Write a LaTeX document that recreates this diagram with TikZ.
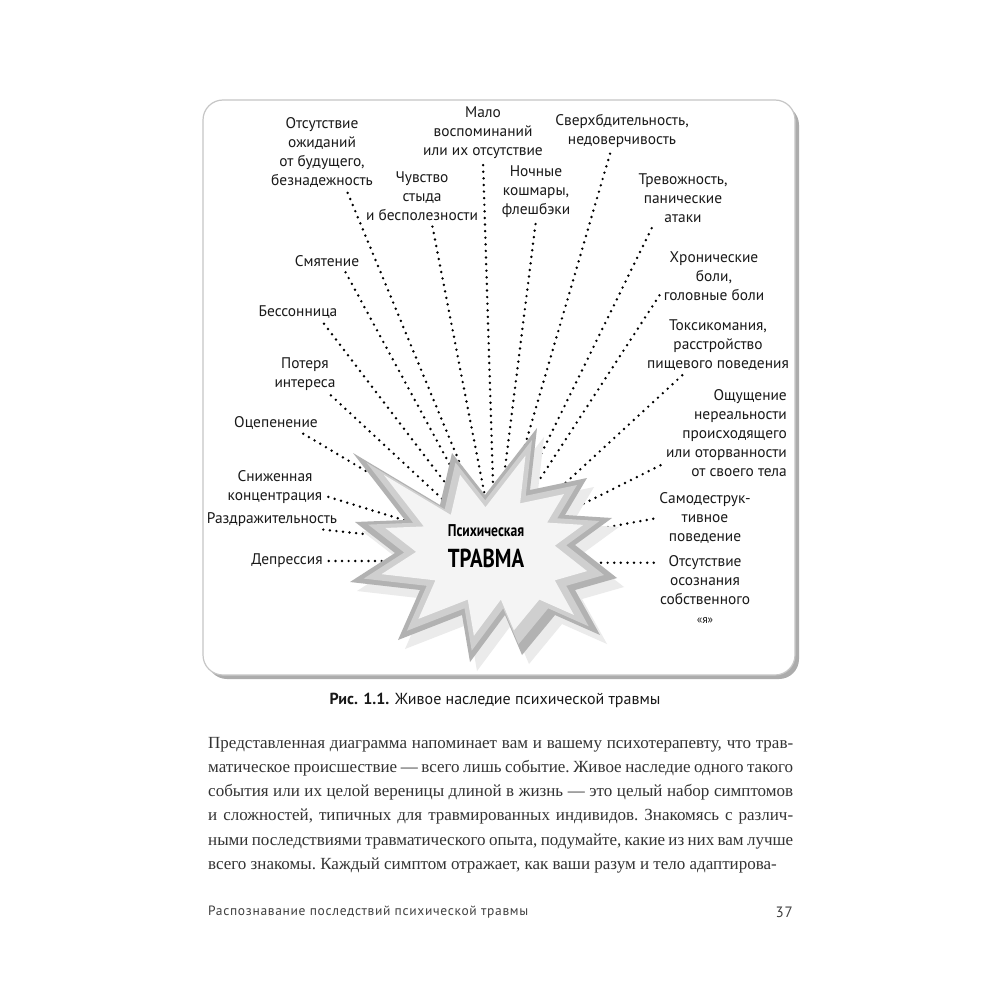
\documentclass[tikz,border=0pt]{standalone}
\usepackage{fontspec}
\setmainfont{PT Sans}
\newfontfamily\bodyserif{Liberation Serif}
\newfontfamily\condsans[FakeStretch=0.8]{PT Sans}
\newfontfamily\footsans[LetterSpace=5]{PT Sans}
\def\blast{(353,453) -- (440,505) -- (452,453) -- (485,495) -- (537,428) -- (530,490) -- (587,478) -- (565,515) -- (612,518) -- (575,545) -- (617,578) -- (575,590) -- (600,635) -- (555,615) -- (522,655) -- (505,615) -- (470,662) -- (462,615) -- (398,640) -- (420,590) -- (350,582) -- (395,553) -- (355,522) -- (405,520) -- cycle}
\begin{document}
\begin{tikzpicture}[x=1pt,y=-1pt,
    lab/.style={font=\fontsize{15.4}{19}\selectfont, align=center, inner sep=2pt, text=black!90},
    dots/.style={line width=2.7pt, line cap=round, dash pattern=on 0pt off 6.6pt, shorten <=4pt}]
    \useasboundingbox (0,0) rectangle (1000,1000);
    \fill[white] (0,0) rectangle (1000,1000);
    \fill[gray!65, rounded corners=20pt] (207,105) rectangle (799,679);
    \draw[gray!45, fill=white, line width=1.2pt, rounded corners=20pt] (203,100) rectangle (795,675);
    \coordinate (c) at (495,548);
    \node[lab] (hope) at (322,152) {Отсутствие\\ожиданий\\от будущего,\\безнадежность};
    \node[lab] (memo) at (483,133) {Мало\\воспоминаний\\или их отсутствие};
    \node[lab] (hyper) at (622,131) {Сверхбдительность,\\недоверчивость};
    \node[lab] (shame) at (422,196) {Чувство\\стыда\\и бесполезности};
    \node[lab] (night) at (536,192) {Ночные\\кошмары,\\флешбэки};
    \node[lab] (anx) at (683,198) {Тревожность,\\панические\\атаки};
    \node[lab] (pain) at (714,276) {Хронические\\боли,\\головные боли};
    \node[lab] (tox) at (718,345) {Токсикомания,\\расстройство\\пищевого поведения};
    \node[lab, align=right, anchor=east] (unreal) at (789,433) {Ощущение\\нереальности\\происходящего\\или оторванности\\от своего тела};
    \node[lab] (selfd) at (705,518) {Самодеструк-\\тивное\\поведение};
    \node[lab] (ego) at (705,590) {Отсутствие\\осознания\\собственного\\{\fontsize{11.5}{19}\selectfont«я»}};
    \node[lab] (confus) at (327,261) {Смятение};
    \node[lab] (insom) at (298,312) {Бессонница};
    \node[lab] (inter) at (305,374) {Потеря\\интереса};
    \node[lab] (numb) at (276,423) {Оцепенение};
    \node[lab] (conc) at (275,487) {Сниженная\\концентрация};
    \node[lab] (irrit) at (272,520) {Раздражительность};
    \node[lab] (depr) at (287,561) {Депрессия};
    \draw[dots] (hope.-57) -- (c);
    \draw[dots] (memo.south) -- (c);
    \draw[dots] (hyper.-120) -- (c);
    \draw[dots] (shame.-70) -- (c);
    \draw[dots] (night.south) -- (c);
    \draw[dots] (anx.-138) -- (c);
    \draw[dots] (pain.-163) -- (c);
    \draw[dots] (tox.-140) -- (c);
    \draw[dots] (unreal.-154) -- (c);
    \draw[dots] (selfd.west) -- (c);
    \draw[dots] (ego.150) -- (ego.150 -| c);
    \draw[dots] (confus.-25) -- (c);
    \draw[dots] (insom.-20) -- (c);
    \draw[dots] (inter.-39) -- (c);
    \draw[dots] (numb.-20) -- (c);
    \draw[dots] (conc.-10) -- (c);
    \draw[dots] (irrit.-11) -- (c);
    \draw[dots] (depr) -- (depr -| c);
    \fill[gray!16, shift={(7,9)}] \blast;
    \fill[gray!60] \blast;
    \fill[gray!38, shift={(487,548)}, scale=0.9, shift={(-487,-548)}] \blast;
    \fill[gray!9, shift={(487,548)}, scale=0.77, shift={(-487,-548)}] \blast;
    \node[inner sep=0pt, font=\condsans\bfseries\fontsize{17}{20}\selectfont] (psych) at (486,531) {Психическая};
    \node[inner sep=0pt, font=\condsans\bfseries\fontsize{26}{28}\selectfont] (trauma) at (486,558) {ТРАВМА};
    \node[font=\fontsize{16}{18}\selectfont, text=black!90] (cap) at (495,700)
      {\textbf{Рис. 1.1.} Живое наследие психической травмы};
    \node[anchor=north west, inner sep=0pt, text width=585pt, align=justify, text=black!80,
      font=\bodyserif\fontsize{17}{24.2}\selectfont] (body) at (208,737)
      {\frenchspacing\parfillskip=0pt Представленная диаграмма напоминает вам и вашему психотерапевту, что трав-\linebreak
       матическое происшествие — всего лишь событие. Живое наследие одного такого\linebreak
       события или их целой вереницы длиной в жизнь — это целый набор симптомов\linebreak
       и сложностей, типичных для травмированных индивидов. Знакомясь с различ-\linebreak
       ными последствиями травматического опыта, подумайте, какие из них вам лучше\linebreak
       всего знакомы. Каждый симптом отражает, как ваши разум и тело адаптирова-};
    \node[anchor=west, inner sep=0pt, text=black!75, font=\footsans\fontsize{13.5}{16}\selectfont] (foot) at (208,912)
      {Распознавание последствий психической травмы};
    \node[anchor=east, inner sep=0pt, text=black!75, font=\footsans\fontsize{15}{16}\selectfont] (page) at (793,912) {37};
\end{tikzpicture}
\end{document}
